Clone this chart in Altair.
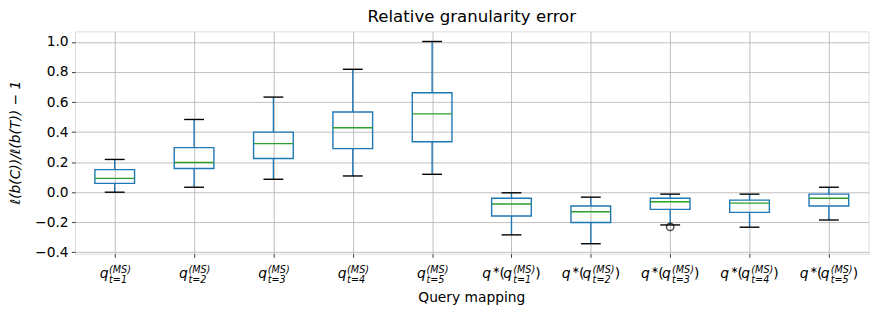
import altair as alt
import pandas as pd

# ---------------- data ----------------
positions = [1, 2, 3, 4, 5, 6, 7, 8, 9, 10]
sub_labels = ["t=1", "t=2", "t=3", "t=4", "t=5", "t=1", "t=2", "t=3", "t=4", "t=5"]
sup_label = "(MS)"
whisker_low = [0.000, 0.033, 0.086, 0.108, 0.119, -0.284, -0.343, -0.218, -0.233, -0.185]
q1 = [0.059, 0.158, 0.224, 0.290, 0.336, -0.158, -0.202, -0.114, -0.134, -0.092]
median = [0.092, 0.198, 0.323, 0.429, 0.521, -0.079, -0.130, -0.064, -0.073, -0.040]
q3 = [0.150, 0.297, 0.400, 0.534, 0.662, -0.040, -0.092, -0.040, -0.053, -0.013]
whisker_high = [0.218, 0.484, 0.633, 0.818, 1.003, -0.004, -0.033, -0.013, -0.013, 0.033]
outlier_pos = [8]
outlier_val = [-0.231]
y_ticks = [-0.4, -0.2, 0.0, 0.2, 0.4, 0.6, 0.8, 1.0]
title_text = "Relative granularity error"
x_title = "Query mapping"
y_title = "ℓ(b(C))/ℓ(b(T)) − 1"

box_df = pd.DataFrame(dict(pos=positions, low=whisker_low, q1=q1, med=median,
                           q3=q3, high=whisker_high, sub=sub_labels))
box_df["sup"] = sup_label
out_df = pd.DataFrame(dict(pos=outlier_pos, val=outlier_val))
df_a = box_df[box_df["pos"] <= 5].copy()
df_a["q"] = "q"
df_b = box_df[box_df["pos"] > 5].copy()
df_b["star"] = "∗"
df_b["lp"] = "("
df_b["rp"] = ")"
df_b["q"] = "q"

# ---------------- style ----------------
W, H = 799, 224
FONT = "DejaVu Sans"
BLUE = "#1f77b4"
GREEN = "#2ca02c"
xs = alt.Scale(domain=[0.5, 10.5], nice=False, zero=False)
ys = alt.Scale(domain=[-0.4103, 1.0703], nice=False, zero=False)

x_axis = alt.Axis(values=positions, labels=False, grid=True, gridColor="#b0b0b0",
                  gridWidth=0.8, tickSize=3.5, tickColor="black", tickWidth=0.8,
                  domain=False, title=None)
y_axis = alt.Axis(values=y_ticks, format=".1f", grid=True, gridColor="#b0b0b0",
                  gridWidth=0.8, tickSize=3.5, tickColor="black", tickWidth=0.8,
                  labelPadding=3.5, labelFont=FONT, labelFontSize=13.9,
                  labelColor="black", domain=False, title=None)


def X(field):
    return alt.X(field, type="quantitative", scale=xs, axis=x_axis)


def Y(field):
    return alt.Y(field, type="quantitative", scale=ys, axis=y_axis)


base = alt.Chart(box_df)

# whiskers
whisk_hi = base.mark_rule(color=BLUE, strokeWidth=1.4).encode(
    x=X("pos"), y=Y("q3"), y2="high:Q")
whisk_lo = base.mark_rule(color=BLUE, strokeWidth=1.4).encode(
    x=X("pos"), y=Y("low"), y2="q1:Q")

wide = base.transform_calculate(bx1="datum.pos - 0.25", bx2="datum.pos + 0.25",
                                cx1="datum.pos - 0.125", cx2="datum.pos + 0.125")

boxes = wide.mark_rect(fillOpacity=0, stroke=BLUE, strokeWidth=1.4).encode(
    x=X("bx1"), x2="bx2:Q", y=Y("q1"), y2="q3:Q")
medians = wide.mark_rule(color=GREEN, strokeWidth=1.4).encode(
    x=X("bx1"), x2="bx2:Q", y=Y("med"))
caps_hi = wide.mark_rule(color="black", strokeWidth=1.4).encode(
    x=X("cx1"), x2="cx2:Q", y=Y("high"))
caps_lo = wide.mark_rule(color="black", strokeWidth=1.4).encode(
    x=X("cx1"), x2="cx2:Q", y=Y("low"))
fliers = alt.Chart(out_df).mark_point(shape="circle", filled=False, color="black",
                                      size=54, strokeWidth=1.4).encode(
    x=X("pos"), y=Y("val"))

# tick labels (math-like text with super/subscripts)
Y_MAIN, Y_SUP, Y_SUB = 248.5, 242.9, 253.5


def txt(df, field, dx, y, size, align, style="normal"):
    return alt.Chart(df).mark_text(
        dx=dx, align=align, baseline="alphabetic", fontSize=size, font=FONT,
        fontStyle=style, color="black").encode(
        x=X("pos"), y=alt.value(y), text=alt.Text(f"{field}:N"))


label_layers = [
    txt(df_a, "q", -6.3, Y_MAIN, 14, "right", "italic"),
    txt(df_a, "sup", -5.7, Y_SUP, 9.7, "left", "italic"),
    txt(df_a, "sub", -5.7, Y_SUB, 9.7, "left", "italic"),
    txt(df_b, "q", -20.5, Y_MAIN, 14, "right", "italic"),
    txt(df_b, "star", -19.5, Y_SUP, 9.7, "left"),
    txt(df_b, "lp", -12.0, Y_MAIN, 14, "left"),
    txt(df_b, "q", -8.3, Y_MAIN, 14, "left", "italic"),
    txt(df_b, "sup", 1.8, Y_SUP, 9.7, "left", "italic"),
    txt(df_b, "sub", 1.8, Y_SUB, 9.7, "left", "italic"),
    txt(df_b, "rp", 24.0, Y_MAIN, 14, "left"),
]

title_mark = alt.Chart(pd.DataFrame({"t": [title_text]})).mark_text(
    align="center", baseline="alphabetic", fontSize=16.7, font=FONT, color="black"
).encode(x=alt.value(W / 2), y=alt.value(-9.8), text="t:N")
xtitle_mark = alt.Chart(pd.DataFrame({"t": [x_title]})).mark_text(
    align="center", baseline="alphabetic", fontSize=13.9, font=FONT, color="black"
).encode(x=alt.value(W / 2), y=alt.value(272.8), text="t:N")
ytitle_mark = alt.Chart(pd.DataFrame({"t": [y_title]})).mark_text(
    align="center", baseline="alphabetic", fontSize=13.9, font=FONT, color="black",
    fontStyle="italic", angle=270
).encode(x=alt.value(-55.5), y=alt.value(H / 2), text="t:N")

chart = alt.layer(
    whisk_hi, whisk_lo, boxes, medians, caps_hi, caps_lo, fliers,
    *label_layers, title_mark, xtitle_mark, ytitle_mark
).properties(
    width=W, height=H,
    autosize=alt.AutoSizeParams(type="none"),
    padding={"left": 67.5, "top": 22.5, "right": 8.5, "bottom": 56},
).configure_view(stroke="black", strokeWidth=1).configure(background="white")

chart.save("out.html", embed_options={"renderer": "svg", "actions": False})
